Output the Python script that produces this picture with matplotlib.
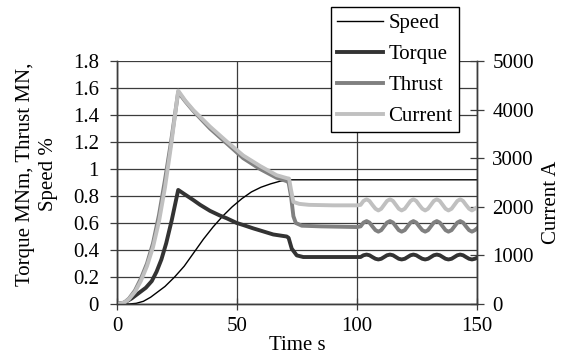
import matplotlib
matplotlib.use('Agg')
import matplotlib.pyplot as plt

plt.rcParams['font.family'] = ['Liberation Serif', 'DejaVu Serif']
plt.rcParams['font.size'] = 15

# Readings taken off the chart
speed_t = [0, 5, 8, 11, 14, 17, 20, 24, 28, 32, 36, 40, 44, 48, 52, 56, 60, 64, 68, 72, 80, 100, 150]
speed_v = [0, 0, 0.005, 0.02, 0.05, 0.09, 0.13, 0.2, 0.28, 0.38, 0.48, 0.57, 0.65, 0.72, 0.78, 0.83,
           0.865, 0.89, 0.91, 0.92, 0.92, 0.92, 0.92]

torque_t = [0, 3, 6, 9, 12, 14.5, 16.5, 18.5, 20.5, 22.8, 25.5, 28, 31.8, 34.6, 38.75, 42.9, 45.7, 49.9,
            52.6, 56.8, 59.6, 65.1, 70.7, 71.5, 72.8, 74.9, 77.6, 80, 100]
torque_v = [0, 0.01, 0.04, 0.08, 0.12, 0.17, 0.24, 0.33, 0.45, 0.62, 0.845, 0.815, 0.77, 0.735, 0.69,
            0.655, 0.635, 0.6, 0.585, 0.56, 0.545, 0.515, 0.5, 0.49, 0.41, 0.36, 0.348, 0.348, 0.348]

thrust_t = [0, 3, 5, 7.5, 10, 12.5, 15, 17.5, 20, 22.5, 25.5, 28.5, 31.8, 38.75, 45.7, 52.6, 59.6,
            66.5, 70.7, 71.5, 72.5, 73.5, 74.5, 77, 85, 100]
thrust_v = [0, 0.01, 0.04, 0.1, 0.19, 0.3, 0.45, 0.66, 0.92, 1.2, 1.57, 1.5, 1.43, 1.3, 1.19, 1.08, 1.0,
            0.935, 0.91, 0.9, 0.8, 0.65, 0.6, 0.58, 0.575, 0.57]

current_t = [0, 3, 5, 7.5, 10, 12.5, 15, 17.5, 20, 22.5, 25.5, 28.5, 31.8, 38.75, 45.7, 52.6,
             59.6, 66.5, 70.7, 71.7, 72.5, 73.5, 76, 80, 90, 100]
current_a = [0, 28, 100, 250, 480, 780, 1170, 1700, 2400, 3250, 4390, 4180, 3990, 3650, 3345, 3055,
             2840, 2650, 2590, 2580, 2350, 2100, 2060, 2040, 2030, 2030]

# oscillating part after 100 s
wave_t = [101.5, 102.7, 104.0, 105.2, 106.4, 107.7, 108.9, 110.1,
          111.3, 112.5, 113.75, 115.0, 116.2, 117.4, 118.6, 119.9,
          121.1, 122.3, 123.5, 124.7, 125.9, 127.2, 128.4, 129.6,
          130.8, 132.0, 133.25, 134.5, 135.7, 136.9, 138.1, 139.4,
          140.6, 141.8, 143.0, 144.2, 145.4, 146.7, 147.9, 149.1, 150.0]
torque_wave = [0.348, 0.361, 0.366, 0.361, 0.348, 0.335, 0.330, 0.335,
               0.348, 0.361, 0.366, 0.361, 0.348, 0.335, 0.330, 0.335,
               0.348, 0.361, 0.366, 0.361, 0.348, 0.335, 0.330, 0.335,
               0.348, 0.361, 0.366, 0.361, 0.348, 0.335, 0.330, 0.335,
               0.348, 0.361, 0.366, 0.361, 0.348, 0.335, 0.330, 0.335, 0.342]
thrust_wave = [0.575, 0.603, 0.614, 0.603, 0.575, 0.547, 0.536, 0.547,
               0.575, 0.603, 0.614, 0.603, 0.575, 0.547, 0.536, 0.547,
               0.575, 0.603, 0.614, 0.603, 0.575, 0.547, 0.536, 0.547,
               0.575, 0.603, 0.614, 0.603, 0.575, 0.547, 0.536, 0.547,
               0.575, 0.603, 0.614, 0.603, 0.575, 0.547, 0.536, 0.547, 0.56]
current_wave = [2040, 2120, 2155, 2120, 2040, 1960, 1925, 1960,
                2040, 2120, 2155, 2120, 2040, 1960, 1925, 1960,
                2040, 2120, 2155, 2120, 2040, 1960, 1925, 1960,
                2040, 2120, 2155, 2120, 2040, 1960, 1925, 1960,
                2040, 2120, 2155, 2120, 2040, 1960, 1925, 1960, 1990]

left_ticks = [0, 0.2, 0.4, 0.6, 0.8, 1.0, 1.2, 1.4, 1.6, 1.8]
left_labels = ['0', '0.2', '0.4', '0.6', '0.8', '1', '1.2', '1.4', '1.6', '1.8']
right_ticks = [0, 1000, 2000, 3000, 4000, 5000]
x_ticks = [0, 50, 100, 150]

fig = plt.figure(figsize=(5.68, 3.58), dpi=100)
ax = fig.add_axes([117/568, 1 - 304/358, 360/568, 243/358])
ax2 = ax.twinx()

grid_col = '#3c3c3c'
ax.set_xlim(0, 150)
ax.set_ylim(0, 1.8)
ax.set_xticks(x_ticks)
ax.set_yticks(left_ticks)
ax.set_yticklabels(left_labels)
ax.grid(True, color=grid_col, linewidth=0.9)
ax.set_axisbelow(True)
ax.tick_params(axis='y', direction='out', length=5, width=0.9, color=grid_col, pad=8)
ax.tick_params(axis='x', direction='inout', length=9, width=0.9, color=grid_col, pad=5)

ax2.set_ylim(0, 5000)
ax2.set_yticks(right_ticks)
ax2.tick_params(axis='y', direction='inout', length=10, width=0.9, color=grid_col, pad=6)

for a in (ax, ax2):
    a.spines['top'].set_visible(False)
    for s in ('left', 'right', 'bottom'):
        a.spines[s].set_color(grid_col)
        a.spines[s].set_linewidth(1.0)

h1, = ax.plot(speed_t, speed_v, color='black', lw=1.0, label='Speed')
h2, = ax.plot(torque_t + wave_t, torque_v + torque_wave, color='#333333', lw=2.8, label='Torque')
h3, = ax.plot(thrust_t + wave_t, thrust_v + thrust_wave, color='#808080', lw=2.8, label='Thrust')
h4, = ax2.plot(current_t + wave_t, current_a + current_wave, color='#c0c0c0', lw=2.8, label='Current')

leg = fig.legend(handles=[h1, h2, h3, h4], loc='upper left',
                 bbox_to_anchor=(331/568, 1 - 7/358), bbox_transform=fig.transFigure,
                 borderaxespad=0, fancybox=False, framealpha=1, edgecolor='black',
                 handlelength=2.2, handletextpad=0.25, labelspacing=0.55, borderpad=0.3)
leg.get_frame().set_linewidth(1.0)

fig.text(37/568, 1 - 174/358, 'Torque MNm, Thrust MN,\nSpeed %', rotation=90,
         ha='center', va='center', multialignment='center', linespacing=1.3)
fig.text(551/568, 1 - 202/358, 'Current A', rotation=90, ha='center', va='center')
fig.text(297/568, 1 - 345/358, 'Time s', ha='center', va='center')

fig.savefig('out.png', dpi=100)
